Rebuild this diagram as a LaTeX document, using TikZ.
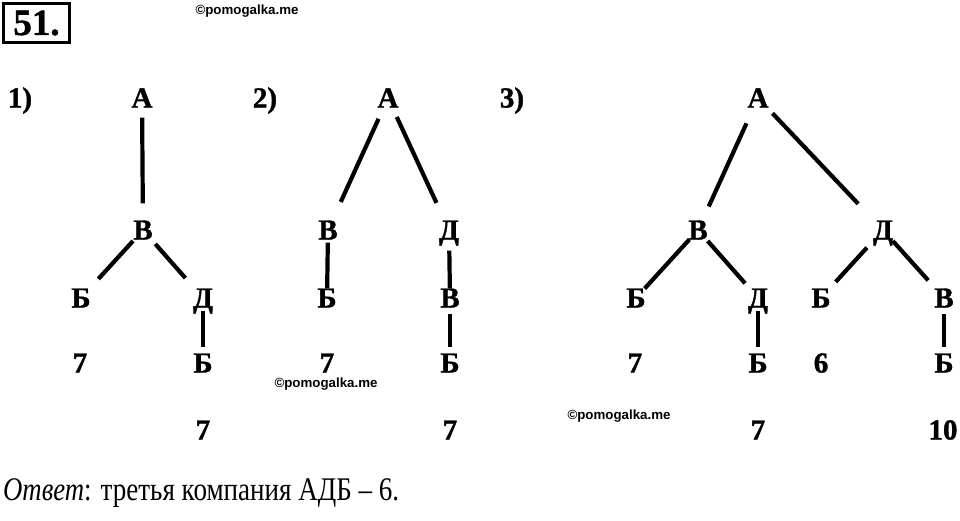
\documentclass[tikz,border=0pt]{standalone}
\usepackage{fontspec}
\setmainfont{Liberation Serif}[BoldFeatures={FakeBold=1.2}]
\setsansfont{Liberation Sans}
\tikzset{
  lbl/.style={font=\fontsize{29}{29}\selectfont\bfseries, inner sep=2pt, text height=19pt, text depth=0pt},
  edge/.style={line width=4.2pt},
  wm/.style={font=\fontsize{13.3}{14}\selectfont\sffamily\bfseries, inner sep=0pt},
}
\begin{document}
\begin{tikzpicture}[x=1pt,y=-1pt]
\useasboundingbox (0,0) rectangle (960,520);
\fill[white] (0,0) rectangle (960,520);

% header
\node[draw, line width=2.5pt, minimum width=66pt, minimum height=39pt, inner sep=0pt,
      font=\fontsize{37}{37}\selectfont\bfseries] (num) at (36.5,23) {51.};
\node[wm] (wm1) at (247,11) {©pomogalka.me};
\node[wm] (wm2) at (326,384) {©pomogalka.me};
\node[wm] (wm3) at (619,416) {©pomogalka.me};

% tree 1
\node[lbl] (t1) at (20,98) {1)};
\node[lbl] (a1) at (142,98) {А};
\node[lbl] (v1) at (143,230) {В};
\node[lbl] (b1) at (81,298) {Б};
\node[lbl] (d1) at (203,298) {Д};
\node[lbl] (b1b) at (203,363) {Б};
\node[lbl] (n1a) at (80,363) {7};
\node[lbl] (n1b) at (203,430) {7};
\draw[edge, shorten <=8pt, shorten >=15pt] (a1) -- (v1);
\draw[edge, shorten <=-1pt, shorten >=10pt] (v1) -- (b1);
\draw[edge, shorten <=3pt, shorten >=11pt] (v1) -- (d1);
\draw[edge, shorten <=1pt, shorten >=4pt] (d1) -- (b1b);

% tree 2
\node[lbl] (t2) at (265,98) {2)};
\node[lbl] (a2) at (388,98) {А};
\node[lbl] (v2) at (328,230) {В};
\node[lbl] (d2) at (449,230) {Д};
\node[lbl] (b2) at (327,298) {Б};
\node[lbl] (v2b) at (450,298) {В};
\node[lbl] (b2b) at (450,363) {Б};
\node[lbl] (n2a) at (327,363) {7};
\node[lbl] (n2b) at (450,430) {7};
\draw[edge, shorten <=10pt, shorten >=18pt] (a2) -- (v2);
\draw[edge, shorten <=8pt, shorten >=17pt] (a2) -- (d2);
\draw[edge, shorten <=1pt, shorten >=-2pt, xshift=-4pt] (v2) -- (b2);
\draw[edge, shorten <=9pt, shorten >=-2pt, xshift=-1pt] (d2) -- (v2b);
\draw[edge, shorten <=4pt, shorten >=4pt, xshift=-1pt] (v2b) -- (b2b);

% tree 3
\node[lbl] (t3) at (512,98) {3)};
\node[lbl] (a3) at (758,98) {А};
\node[lbl] (v3) at (698,230) {В};
\node[lbl] (d3) at (883,230) {Д};
\node[lbl] (b3a) at (636,298) {Б};
\node[lbl] (d3b) at (758,298) {Д};
\node[lbl] (b3c) at (821,298) {Б};
\node[lbl] (v3b) at (944,298) {В};
\node[lbl] (b3d) at (758,363) {Б};
\node[lbl] (b3e) at (944,363) {Б};
\node[lbl] (n3a) at (635,363) {7};
\node[lbl] (n3b) at (821,363) {6};
\node[lbl] (n3c) at (758,430) {7};
\node[lbl] (n3d) at (943,430) {10};
\draw[edge, shorten <=15pt, shorten >=13pt] (a3) -- (v3);
\draw[edge, shorten <=5pt, shorten >=20pt] (a3) -- (d3);
\draw[edge, shorten <=-3pt, shorten >=-3pt] (v3) -- (b3a);
\draw[edge, shorten <=-1pt, shorten >=4pt] (v3) -- (d3b);
\draw[edge, shorten <=8pt, shorten >=6pt] (d3) -- (b3c);
\draw[edge, shorten <=-1pt, shorten >=8pt] (d3) -- (v3b);
\draw[edge, shorten <=1pt, shorten >=4pt, xshift=-1pt] (d3b) -- (b3d);
\draw[edge, shorten <=4pt, shorten >=4pt, xshift=-3pt] (v3b) -- (b3e);

% answer
\node[anchor=base west, inner sep=0pt, font=\fontsize{33}{33}\selectfont] (ans) at (3,500)
  {\scalebox{0.81}[1]{\textit{Ответ}:}\hspace{9pt}\scalebox{0.82}[1]{третья компания АДБ – 6.}};
\end{tikzpicture}
\end{document}
